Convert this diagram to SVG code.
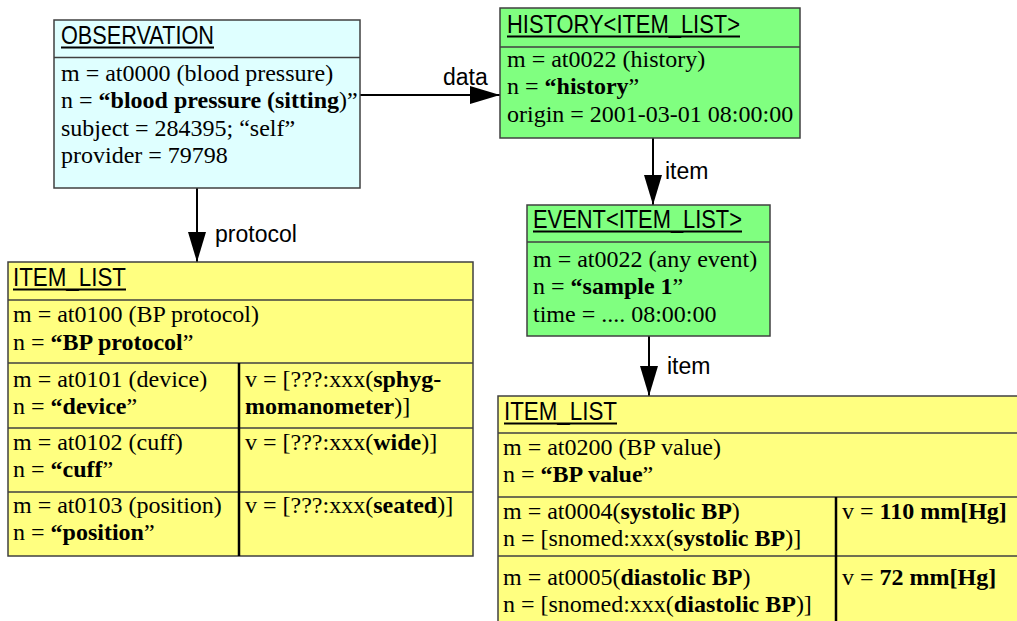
<svg xmlns="http://www.w3.org/2000/svg" width="1017" height="621" viewBox="0 0 1017 621">
<defs>
<style>
.box{stroke:#404040;stroke-width:1.5}
.obs{fill:#dfffff}
.grn{fill:#80ff80}
.yel{fill:#ffff80}
.sep{stroke:#404040;stroke-width:1.5}
.div{stroke:#000;stroke-width:2.5}
.ttl{font-family:"Liberation Sans",Arial,sans-serif;font-size:26px;fill:#000}
.ul{stroke:#000;stroke-width:2}
.t{font-family:"Liberation Serif","Times New Roman",serif;font-size:24px;fill:#000}
.b{font-weight:bold}
.lbl{font-family:"Liberation Sans",Arial,sans-serif;font-size:23px;fill:#000}
.con{stroke:#000;stroke-width:2;fill:none}
</style>
<marker id="ah" markerUnits="userSpaceOnUse" markerWidth="30" markerHeight="18" refX="30" refY="9" orient="auto">
<path d="M0,0 L30,9 L0,18 Z" fill="#000"/>
</marker>
</defs>
<rect width="1017" height="621" fill="#fff"/>

<g id="connectors">
<line class="con" x1="360" y1="95" x2="500" y2="95" marker-end="url(#ah)"/>
<text class="lbl" x="443" y="85">data</text>
<line class="con" x1="197" y1="188" x2="197" y2="262" marker-end="url(#ah)"/>
<text class="lbl" x="215" y="242">protocol</text>
<line class="con" x1="653" y1="138" x2="653" y2="205" marker-end="url(#ah)"/>
<text class="lbl" x="665" y="179">item</text>
<line class="con" x1="649" y1="336" x2="649" y2="396" marker-end="url(#ah)"/>
<text class="lbl" x="667" y="374">item</text>
</g>

<g id="observation">
<rect class="box obs" x="54" y="20" width="306" height="168"/>
<line class="sep" x1="54" y1="57.5" x2="360" y2="57.5"/>
<text class="ttl" x="61" y="44" textLength="153" lengthAdjust="spacingAndGlyphs">OBSERVATION</text>
<line class="ul" x1="61" y1="47.5" x2="214" y2="47.5"/>
<text class="t" x="61" y="81">m = at0000 (blood pressure)</text>
<text class="t" x="61" y="108">n = <tspan class="b">“blood pressure (sitting</tspan>)”</text>
<text class="t" x="61" y="136">subject = 284395; “self”</text>
<text class="t" x="61" y="163">provider = 79798</text>
</g>

<g id="history">
<rect class="box grn" x="500" y="8" width="300" height="130"/>
<line class="sep" x1="500" y1="47" x2="800" y2="47"/>
<text class="ttl" x="507" y="33" textLength="233" lengthAdjust="spacingAndGlyphs">HISTORY&lt;ITEM_LIST&gt;</text>
<line class="ul" x1="507" y1="36.5" x2="740" y2="36.5"/>
<text class="t" x="507" y="67">m = at0022 (history)</text>
<text class="t" x="507" y="94">n = <tspan class="b">“history</tspan>”</text>
<text class="t" x="507" y="122">origin = 2001-03-01 08:00:00</text>
</g>

<g id="event">
<rect class="box grn" x="527" y="205" width="243" height="131"/>
<line class="sep" x1="527" y1="242" x2="770" y2="242"/>
<text class="ttl" x="533" y="228" textLength="209" lengthAdjust="spacingAndGlyphs">EVENT&lt;ITEM_LIST&gt;</text>
<line class="ul" x1="533" y1="231.5" x2="742" y2="231.5"/>
<text class="t" x="533" y="267">m = at0022 (any event)</text>
<text class="t" x="533" y="294">n = <tspan class="b">“sample 1</tspan>”</text>
<text class="t" x="533" y="322">time = .... 08:00:00</text>
</g>

<g id="protocol-list">
<rect class="box yel" x="8" y="262" width="465" height="294"/>
<line class="sep" x1="8" y1="300" x2="473" y2="300"/>
<line class="sep" x1="8" y1="363" x2="473" y2="363"/>
<line class="sep" x1="8" y1="428" x2="473" y2="428"/>
<line class="sep" x1="8" y1="492" x2="473" y2="492"/>
<line class="div" x1="239" y1="363" x2="239" y2="556"/>
<text class="ttl" x="13" y="286" textLength="113" lengthAdjust="spacingAndGlyphs">ITEM_LIST</text>
<line class="ul" x1="13" y1="289.5" x2="126" y2="289.5"/>
<text class="t" x="13" y="322">m = at0100 (BP protocol)</text>
<text class="t" x="13" y="350">n = <tspan class="b">“BP protocol</tspan>”</text>
<text class="t" x="13" y="387">m = at0101 (device)</text>
<text class="t" x="13" y="414">n = <tspan class="b">“device</tspan>”</text>
<text class="t" x="245" y="387">v = [???:xxx(<tspan class="b">sphyg-</tspan></text>
<text class="t" x="245" y="414"><tspan class="b">momanometer</tspan>)]</text>
<text class="t" x="13" y="450">m = at0102 (cuff)</text>
<text class="t" x="13" y="477">n = <tspan class="b">“cuff</tspan>”</text>
<text class="t" x="245" y="450">v = [???:xxx(<tspan class="b">wide</tspan>)]</text>
<text class="t" x="13" y="513">m = at0103 (position)</text>
<text class="t" x="13" y="540">n = <tspan class="b">“position</tspan>”</text>
<text class="t" x="245" y="513">v = [???:xxx(<tspan class="b">seated</tspan>)]</text>
</g>

<g id="value-list">
<rect class="box yel" x="498" y="396" width="540" height="240"/>
<line class="sep" x1="498" y1="433" x2="1038" y2="433"/>
<line class="sep" x1="498" y1="497" x2="1038" y2="497"/>
<line class="sep" x1="498" y1="556" x2="1038" y2="556"/>
<line class="div" x1="836" y1="497" x2="836" y2="636"/>
<text class="ttl" x="504" y="420" textLength="113" lengthAdjust="spacingAndGlyphs">ITEM_LIST</text>
<line class="ul" x1="504" y1="423.5" x2="617" y2="423.5"/>
<text class="t" x="503" y="455">m = at0200 (BP value)</text>
<text class="t" x="503" y="482">n = <tspan class="b">“BP value</tspan>”</text>
<text class="t" x="503" y="519">m = at0004(<tspan class="b">systolic BP</tspan>)</text>
<text class="t" x="503" y="546">n = [snomed:xxx(<tspan class="b">systolic BP</tspan>)]</text>
<text class="t" x="842" y="519">v = <tspan class="b">110 mm[Hg]</tspan></text>
<text class="t" x="503" y="585">m = at0005(<tspan class="b">diastolic BP</tspan>)</text>
<text class="t" x="503" y="612">n = [snomed:xxx(<tspan class="b">diastolic BP</tspan>)]</text>
<text class="t" x="842" y="585">v = <tspan class="b">72 mm[Hg]</tspan></text>
</g>
</svg>
